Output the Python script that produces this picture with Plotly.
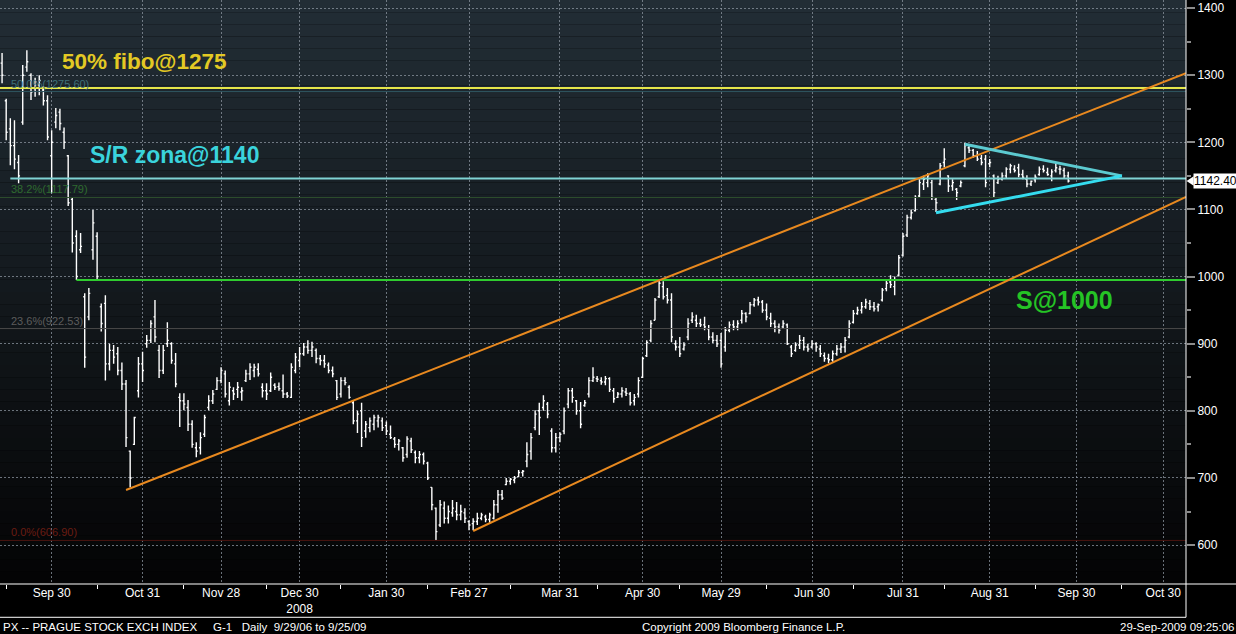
import pandas as pd
import plotly.graph_objects as go

# PX index daily bars (12 Sep 2008 - 25 Sep 2009)
holidays = ["2008-10-28", "2008-11-17", "2008-12-24", "2008-12-25", "2008-12-26",
            "2008-12-31", "2009-01-01", "2009-04-10", "2009-04-13", "2009-05-01",
            "2009-05-08", "2009-07-06", "2009-09-28", "2009-10-28"]

opens = [
    1318, 1262, 1220, 1195, 1170, 1230, 1312, 1300, 1280, 1285,
    1278, 1262, 1180, 1230, 1245, 1215, 1180, 1115, 1060, 1040,
    970, 940, 1040, 1060, 955, 960, 870, 890, 885, 860,
    840, 740, 750, 830, 870, 900, 905, 940, 890, 860,
    900, 900, 870, 820, 815, 805, 780, 745, 745, 765,
    805, 815, 832, 845, 855, 815, 830, 832, 828, 845,
    855, 860, 862, 835, 830, 830, 838, 836, 830, 825,
    820, 860, 875, 885, 895, 890, 890, 878, 875, 868,
    860, 845, 825, 845, 835, 812, 785, 800, 770, 775,
    780, 785, 785, 778, 765, 758, 750, 745, 735, 755,
    738, 730, 735, 722, 686, 655, 630, 655, 640, 648,
    650, 645, 648, 635, 632, 635, 640, 642, 638, 640,
    660, 675, 690, 695, 697, 702, 708, 725, 740, 775,
    800, 805, 810, 770, 745, 760, 770, 810, 830, 815,
    800, 808, 825, 845, 848, 845, 843, 848, 830, 820,
    825, 828, 825, 815, 825, 850, 882, 905, 935, 970,
    985, 972, 965, 900, 895, 892, 910, 935, 935, 930,
    928, 922, 910, 905, 905, 895, 920, 928, 925, 935,
    945, 945, 958, 965, 962, 950, 938, 930, 925, 925,
    928, 895, 890, 898, 905, 895, 895, 900, 892, 882,
    878, 876, 885, 892, 895, 910, 932, 945, 950, 955,
    960, 955, 955, 965, 982, 992, 985, 1002, 1032, 1062,
    1088, 1098, 1120, 1138, 1140, 1140, 1115, 1138, 1170, 1150,
    1135, 1130, 1135, 1165, 1192, 1188, 1180, 1176, 1175, 1168,
    1150, 1140, 1145, 1150, 1160, 1160, 1162, 1152, 1145, 1138,
    1144, 1152, 1160, 1155, 1150, 1158, 1160, 1158, 1150,
]
highs = [
    1333, 1265, 1236, 1233, 1181, 1315, 1337, 1303, 1296, 1300,
    1284, 1270, 1218, 1251, 1250, 1222, 1181, 1118, 1069, 1065,
    975, 983, 1099, 1066, 960, 972, 900, 898, 895, 872,
    846, 741, 791, 880, 888, 913, 935, 965, 898, 898,
    932, 902, 886, 826, 826, 816, 786, 753, 768, 794,
    823, 831, 850, 865, 860, 843, 835, 843, 835, 861,
    871, 870, 871, 841, 841, 857, 841, 842, 854, 828,
    871, 886, 895, 901, 905, 903, 893, 883, 883, 872,
    866, 846, 850, 850, 838, 815, 800, 812, 785, 790,
    794, 794, 790, 784, 778, 761, 758, 746, 762, 760,
    741, 740, 738, 724, 686, 656, 667, 665, 659, 667,
    664, 660, 655, 637, 640, 648, 648, 645, 648, 667,
    682, 682, 700, 700, 703, 712, 712, 753, 767, 801,
    812, 823, 813, 774, 767, 768, 805, 834, 834, 816,
    813, 816, 850, 865, 852, 850, 852, 850, 834, 828,
    835, 834, 828, 825, 850, 880, 905, 935, 968, 995,
    993, 983, 975, 905, 910, 902, 938, 947, 943, 937,
    940, 928, 917, 913, 916, 925, 933, 935, 935, 950,
    947, 962, 968, 970, 965, 960, 946, 935, 930, 935,
    930, 898, 902, 913, 910, 900, 905, 902, 898, 887,
    885, 890, 898, 901, 910, 935, 950, 955, 962, 967,
    965, 962, 960, 983, 995, 1002, 1000, 1032, 1065, 1092,
    1100, 1121, 1145, 1150, 1154, 1144, 1117, 1169, 1191, 1151,
    1145, 1132, 1143, 1199, 1197, 1190, 1187, 1181, 1181, 1175,
    1152, 1150, 1155, 1163, 1168, 1166, 1168, 1159, 1151, 1143,
    1152, 1164, 1166, 1162, 1160, 1169, 1165, 1162, 1156,
]
lows = [
    1288, 1203, 1166, 1160, 1139, 1226, 1305, 1263, 1268, 1270,
    1255, 1203, 1124, 1221, 1218, 1190, 1105, 1036, 995, 1035,
    864, 935, 1025, 995, 918, 845, 860, 870, 853, 831,
    746, 686, 749, 820, 843, 894, 901, 902, 849, 855,
    895, 870, 835, 776, 801, 770, 745, 731, 735, 761,
    801, 810, 831, 841, 820, 808, 816, 819, 815, 843,
    846, 850, 851, 820, 816, 828, 831, 830, 819, 819,
    819, 856, 865, 882, 885, 880, 871, 868, 864, 856,
    850, 816, 820, 838, 818, 780, 767, 746, 760, 768,
    771, 775, 770, 764, 758, 745, 741, 724, 730, 737,
    722, 722, 720, 697, 652, 607, 627, 632, 632, 642,
    637, 637, 633, 622, 622, 630, 637, 634, 633, 638,
    648, 667, 689, 690, 692, 701, 702, 716, 727, 771,
    764, 800, 789, 738, 738, 753, 765, 804, 812, 794,
    774, 806, 820, 843, 843, 839, 838, 828, 812, 819,
    820, 822, 808, 808, 820, 849, 880, 902, 935, 968,
    966, 960, 902, 890, 880, 890, 905, 931, 925, 925,
    920, 905, 901, 895, 864, 888, 917, 920, 920, 930,
    932, 944, 955, 957, 946, 935, 925, 917, 915, 922,
    898, 880, 888, 892, 890, 888, 893, 888, 880, 873,
    871, 873, 882, 886, 887, 908, 930, 943, 945, 952,
    950, 948, 948, 963, 978, 983, 972, 1000, 1030, 1059,
    1085, 1097, 1118, 1129, 1133, 1114, 1096, 1136, 1163, 1126,
    1128, 1114, 1133, 1163, 1184, 1177, 1172, 1166, 1133, 1163,
    1118, 1138, 1143, 1147, 1154, 1155, 1148, 1145, 1133, 1135,
    1140, 1150, 1155, 1150, 1142, 1155, 1152, 1147, 1140,
]
closes = [
    1300, 1215, 1195, 1175, 1150, 1300, 1320, 1275, 1290, 1292,
    1262, 1208, 1200, 1240, 1228, 1200, 1110, 1050, 1000, 1045,
    880, 975, 1080, 1000, 930, 870, 890, 880, 860, 840,
    760, 700, 790, 870, 860, 905, 930, 910, 860, 890,
    905, 875, 840, 815, 810, 780, 750, 740, 760, 790,
    815, 825, 845, 860, 825, 835, 825, 835, 830, 855,
    865, 865, 855, 830, 825, 850, 835, 833, 825, 822,
    865, 880, 885, 895, 890, 895, 878, 875, 870, 860,
    855, 820, 845, 842, 820, 785, 795, 760, 780, 785,
    790, 790, 775, 770, 760, 750, 755, 730, 758, 742,
    730, 735, 725, 700, 660, 620, 660, 640, 650, 655,
    645, 650, 640, 630, 635, 640, 645, 638, 645, 660,
    675, 670, 695, 698, 700, 708, 710, 735, 760, 795,
    790, 815, 795, 745, 760, 765, 800, 830, 820, 800,
    780, 812, 845, 850, 847, 843, 848, 832, 818, 825,
    830, 826, 812, 820, 845, 878, 902, 930, 965, 990,
    970, 965, 910, 895, 885, 898, 930, 940, 930, 928,
    925, 910, 905, 900, 870, 920, 928, 925, 930, 945,
    940, 958, 965, 962, 950, 940, 930, 925, 920, 930,
    900, 885, 898, 905, 895, 892, 900, 895, 885, 878,
    876, 885, 892, 895, 905, 930, 945, 950, 955, 962,
    955, 952, 958, 980, 990, 988, 995, 1028, 1060, 1088,
    1095, 1118, 1140, 1145, 1150, 1118, 1110, 1165, 1175, 1135,
    1140, 1125, 1140, 1195, 1188, 1180, 1175, 1170, 1140, 1170,
    1125, 1145, 1150, 1160, 1165, 1158, 1152, 1148, 1138, 1142,
    1148, 1160, 1158, 1152, 1156, 1162, 1160, 1150, 1142.40,
]
last_price = 1142.40

dates = [d for d in pd.bdate_range("2008-09-12", "2009-09-25")
         if d.strftime("%Y-%m-%d") not in holidays]
assert len(dates) == len(opens) == len(highs) == len(lows) == len(closes), \
    (len(dates), len(opens), len(highs), len(lows), len(closes))

# axis labels
tick_dates = ["2008-09-30", "2008-10-31", "2008-11-28", "2008-12-30", "2009-01-30",
              "2009-02-27", "2009-03-31", "2009-04-30", "2009-05-29", "2009-06-30",
              "2009-07-31", "2009-08-31", "2009-09-30", "2009-10-30"]
tick_labels = ["Sep 30", "Oct 31", "Nov 28", "Dec 30<br>2008", "Jan 30", "Feb 27",
               "Mar 31", "Apr 30", "May 29", "Jun 30", "Jul 31", "Aug 31",
               "Sep 30", "Oct 30"]
mid_month = ["2008-09-15", "2008-10-15", "2008-11-14", "2008-12-15", "2009-01-15",
             "2009-02-13", "2009-03-13", "2009-04-15", "2009-05-15", "2009-06-15",
             "2009-07-15", "2009-08-14", "2009-09-15", "2009-10-15"]
price_ticks = [600, 700, 800, 900, 1000, 1100, 1200, 1300, 1400]

# fibonacci retracement levels (faint)
fibo_levels = [1275.60, 1117.79, 922.53, 606.90]
fibo_labels = ["50.0%(1275.60)", "38.2%(1117.79)", "23.6%(922.53)", "0.0%(606.90)"]
fibo_line_colors = ["#2f5560", "#2d4d2d", "#4a4a4a", "#4a1410"]
fibo_text_colors = ["#3d6f78", "#2f6b2f", "#5c5c5c", "#6a1c12"]

# drawn levels and trend lines
fibo_level = 1281
sr_level = 1146
support_level = 995
channel_upper = [("2008-10-24", 682), ("2009-11-06 12:00", 1303)]
channel_lower = [("2009-03-02", 621), ("2009-11-06 12:00", 1118.5)]
triangle_top = [("2009-08-21", 1197), ("2009-10-15", 1150)]
triangle_bottom = [("2009-08-12", 1095), ("2009-10-15", 1150)]

x_range = ["2008-09-11 12:00", "2009-11-06 12:00"]
y_range = [542, 1412]

fig = go.Figure()

fig.add_trace(go.Ohlc(
    x=dates, open=opens, high=highs, low=lows, close=closes,
    increasing=dict(line=dict(color="white", width=1.4)),
    decreasing=dict(line=dict(color="white", width=1.4)),
    tickwidth=0.35, hoverinfo="skip",
))

shapes = []
# background gradient, slate at the top fading to black
bands = 48
top, bottom = (34, 45, 53), (4, 4, 5)
for i in range(bands):
    t = i / (bands - 1)
    c = tuple(round(top[j] + (bottom[j] - top[j]) * t) for j in range(3))
    shapes.append(dict(type="rect", xref="paper", yref="paper", layer="below",
                       x0=0, x1=1, y0=1 - (i + 1) / bands, y1=1 - i / bands,
                       fillcolor="rgb(%d,%d,%d)" % c, line_width=0))

for lvl, col in zip(fibo_levels, fibo_line_colors):
    shapes.append(dict(type="line", xref="paper", yref="y", x0=0, x1=1,
                       y0=lvl, y1=lvl, line=dict(color=col, width=1)))

shapes.append(dict(type="line", xref="paper", yref="y", x0=0, x1=1,
                   y0=fibo_level, y1=fibo_level, line=dict(color="#e6e64a", width=2)))
shapes.append(dict(type="line", xref="x", yref="y", x0="2008-09-16", x1=x_range[1],
                   y0=sr_level, y1=sr_level, line=dict(color="#7fd3d3", width=2)))
shapes.append(dict(type="line", xref="x", yref="y", x0="2008-10-08", x1=x_range[1],
                   y0=support_level, y1=support_level, line=dict(color="#2fcc2f", width=2)))

for seg, col, w in [(channel_upper, "#e8891f", 2), (channel_lower, "#e8891f", 2),
                    (triangle_top, "#5ccad0", 3), (triangle_bottom, "#35dcef", 3)]:
    (xa, ya), (xb, yb) = seg
    shapes.append(dict(type="line", xref="x", yref="y", x0=xa, x1=xb, y0=ya, y1=yb,
                       line=dict(color=col, width=w)))

# frame lines of the Bloomberg screen
shapes += [
    dict(type="line", xref="paper", yref="paper", x0=0, x1=1236 / 1186, y0=0, y1=0,
         line=dict(color="white", width=1)),
    dict(type="line", xref="paper", yref="paper", x0=1, x1=1, y0=1, y1=-0.057,
         line=dict(color="white", width=1)),
    dict(type="line", xref="paper", yref="paper", x0=0, x1=1, y0=-0.057, y1=-0.057,
         line=dict(color="white", width=1)),
    dict(type="path", xref="paper", yref="y", fillcolor="white", line_width=0,
         path="M 1.0005,%s L 1.0065,%s L 1.0065,%s Z" % (last_price, last_price + 7, last_price - 7)),
]

annotations = []
for lvl, txt, col in zip(fibo_levels, fibo_labels, fibo_text_colors):
    annotations.append(dict(xref="paper", yref="y", x=0.008, y=lvl, text=txt,
                            xanchor="left", yanchor="bottom", showarrow=False,
                            font=dict(family="Liberation Sans", size=11, color=col)))

big = dict(family="Liberation Sans")
annotations += [
    dict(xref="paper", yref="y", x=60 / 1186, y=1320, text="<b>50% fibo@1275</b>",
         xanchor="left", yanchor="middle", showarrow=False,
         font=dict(big, size=22.5, color="#e3c924")),
    dict(xref="paper", yref="y", x=88 / 1186, y=1181, text="<b>S/R zona@1140</b>",
         xanchor="left", yanchor="middle", showarrow=False,
         font=dict(big, size=23, color="#3ad3dc")),
    dict(xref="paper", yref="y", x=1014 / 1186, y=965, text="<b>S@1000</b>",
         xanchor="left", yanchor="middle", showarrow=False,
         font=dict(big, size=25, color="#25c425")),
    dict(xref="paper", yref="y", x=1.0062, y=last_price, text="%.2f" % last_price,
         xanchor="left", yanchor="middle", showarrow=False, bgcolor="white", borderpad=0,
         font=dict(family="Liberation Sans", size=12, color="black")),
]

foot = dict(family="Liberation Sans", size=11.5, color="white")
nb = "\u00a0"
annotations += [
    dict(xref="paper", yref="paper", x=0.001, y=-0.074, xanchor="left", yanchor="middle",
         showarrow=False, font=foot,
         text="PX -- PRAGUE STOCK EXCH INDEX" + nb * 5 + "G-1" + nb * 3 + "Daily" + nb * 2
              + "9/29/06 to 9/25/09"),
    dict(xref="paper", yref="paper", x=743 / 1186, y=-0.074, xanchor="center",
         yanchor="middle", showarrow=False, font=foot,
         text="Copyright 2009 Bloomberg Finance L.P."),
    dict(xref="paper", yref="paper", x=1236 / 1186, y=-0.074, xanchor="right",
         yanchor="middle", showarrow=False, font=foot, text="29-Sep-2009 09:25:06"),
]

grid = "rgba(140,150,160,0.75)"
fig.update_layout(
    width=1236, height=634,
    margin=dict(l=0, r=50, t=0, b=50),
    paper_bgcolor="black", plot_bgcolor="rgba(0,0,0,0)",
    showlegend=False,
    shapes=shapes, annotations=annotations,
    xaxis=dict(
        type="date", range=x_range,
        rangebreaks=[dict(bounds=["sat", "mon"]), dict(values=holidays)],
        rangeslider=dict(visible=False),
        tickmode="array", tickvals=tick_dates, ticktext=tick_labels, ticks="",
        tickfont=dict(family="Liberation Sans", size=12, color="white"),
        showgrid=True, gridcolor=grid, griddash="2px,2px", gridwidth=1,
        showline=False, zeroline=False,
        minor=dict(tickmode="array", tickvals=mid_month, ticks="outside", ticklen=4,
                   tickcolor="white", showgrid=False),
    ),
    yaxis=dict(
        side="right", range=y_range,
        tickmode="array", tickvals=price_ticks, ticks="outside", ticklen=8,
        tickcolor="#8c8c8c", tickwidth=2,
        tickfont=dict(family="Liberation Sans", size=12, color="white"),
        showgrid=True, gridcolor=grid, griddash="2px,2px", gridwidth=1,
        showline=False, zeroline=False,
        minor=dict(tickmode="array", tickvals=[650, 750, 850, 950, 1050, 1150, 1250, 1350],
                   ticks="outside", ticklen=4, tickcolor="#8c8c8c", showgrid=False),
    ),
)

# the page body has a default margin; drop it so the figure fills the window
fig.write_html("out.html", config={"displayModeBar": False},
               post_script="document.body.style.margin = '0';")
